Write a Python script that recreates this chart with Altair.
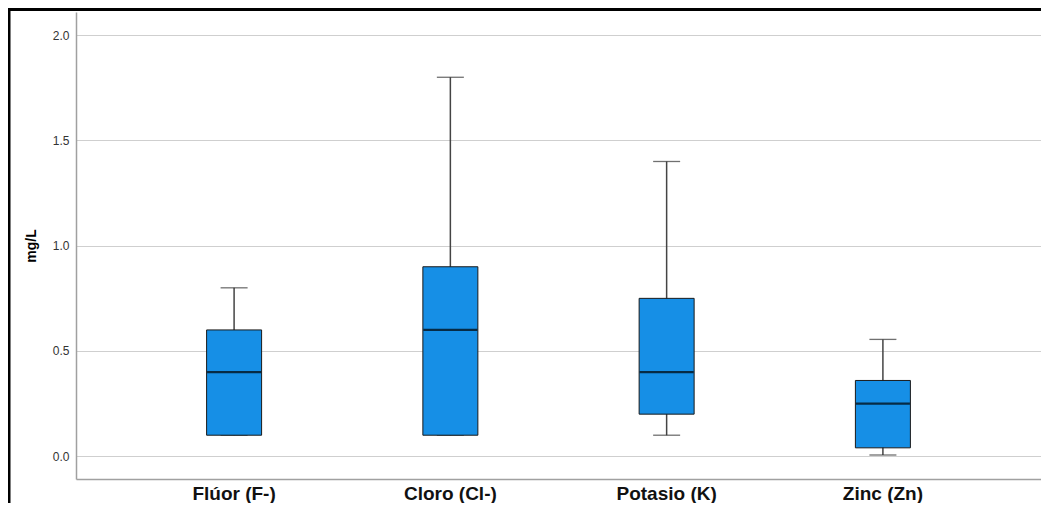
import altair as alt
import pandas as pd

categories = ["Flúor (F-)", "Cloro (Cl-)", "Potasio (K)", "Zinc (Zn)"]
mins = [0.1, 0.1, 0.1, 0.006]
q1s = [0.1, 0.1, 0.2, 0.04]
medians = [0.4, 0.6, 0.4, 0.25]
q3s = [0.6, 0.9, 0.75, 0.36]
maxs = [0.8, 1.8, 1.4, 0.555]

df = pd.DataFrame({"cat": categories, "min": mins, "q1": q1s,
                   "med": medians, "q3": q3s, "max": maxs})

FONT = "Liberation Sans"
xenc = alt.X("cat:N", sort=categories,
             scale=alt.Scale(paddingInner=0, paddingOuter=0.231),
             axis=alt.Axis(title=None, labelAngle=0, ticks=False, labelPadding=5,
                           labelFontSize=19, labelFontWeight="bold", labelColor="#111",
                           labelFont=FONT, domainColor="#a0a0a0", domainWidth=1.5))
yscale = alt.Scale(domain=[-0.108, 2.11], nice=False, zero=False)
yaxis = alt.Axis(title="mg/L", values=[0, 0.5, 1.0, 1.5, 2.0], format=".1f",
                 ticks=False, labelPadding=7, labelFontSize=12, labelColor="#333",
                 labelFont=FONT, titleFont=FONT, titleFontSize=14, titleFontWeight="bold",
                 titleColor="#000", titlePadding=14, gridColor="#cfcfcf", gridWidth=1.2,
                 domainColor="#a0a0a0", domainWidth=1.5)

base = alt.Chart(df)

whisker = base.mark_rule(color="#444", strokeWidth=1.5).encode(
    x=xenc, y=alt.Y("min:Q", scale=yscale, axis=yaxis), y2="max:Q")
cap_hi = base.mark_tick(size=27, thickness=1.3, color="#333").encode(
    x=alt.X("cat:N", sort=categories), y="max:Q")
cap_lo = base.mark_tick(size=27, thickness=1.3, color="#333").encode(
    x=alt.X("cat:N", sort=categories), y="min:Q")
box = base.mark_bar(size=55, color="#168fe6", stroke="#1a1a1a", strokeWidth=1).encode(
    x=alt.X("cat:N", sort=categories), y="q1:Q", y2="q3:Q")
median = base.mark_tick(size=54, thickness=2.2, color="#000").encode(
    x=alt.X("cat:N", sort=categories), y="med:Q")

frame = alt.Chart(alt.Data(values=[{"a": 1}])).mark_rect(
    fill=None, stroke="#000", strokeWidth=3, clip=False).encode(
    x=alt.value(-67), x2=alt.value(1200), y=alt.value(-2.5), y2=alt.value(700))

chart = alt.layer(whisker, cap_hi, cap_lo, box, median, frame).properties(
    width=965, height=467,
    autosize=alt.AutoSizeParams(type="none"),
    padding={"left": 68, "top": 4, "right": 0, "bottom": 24},
    background="white",
).configure_view(stroke=None)

chart.save("out.html", embed_options={"renderer": "svg", "actions": False})
